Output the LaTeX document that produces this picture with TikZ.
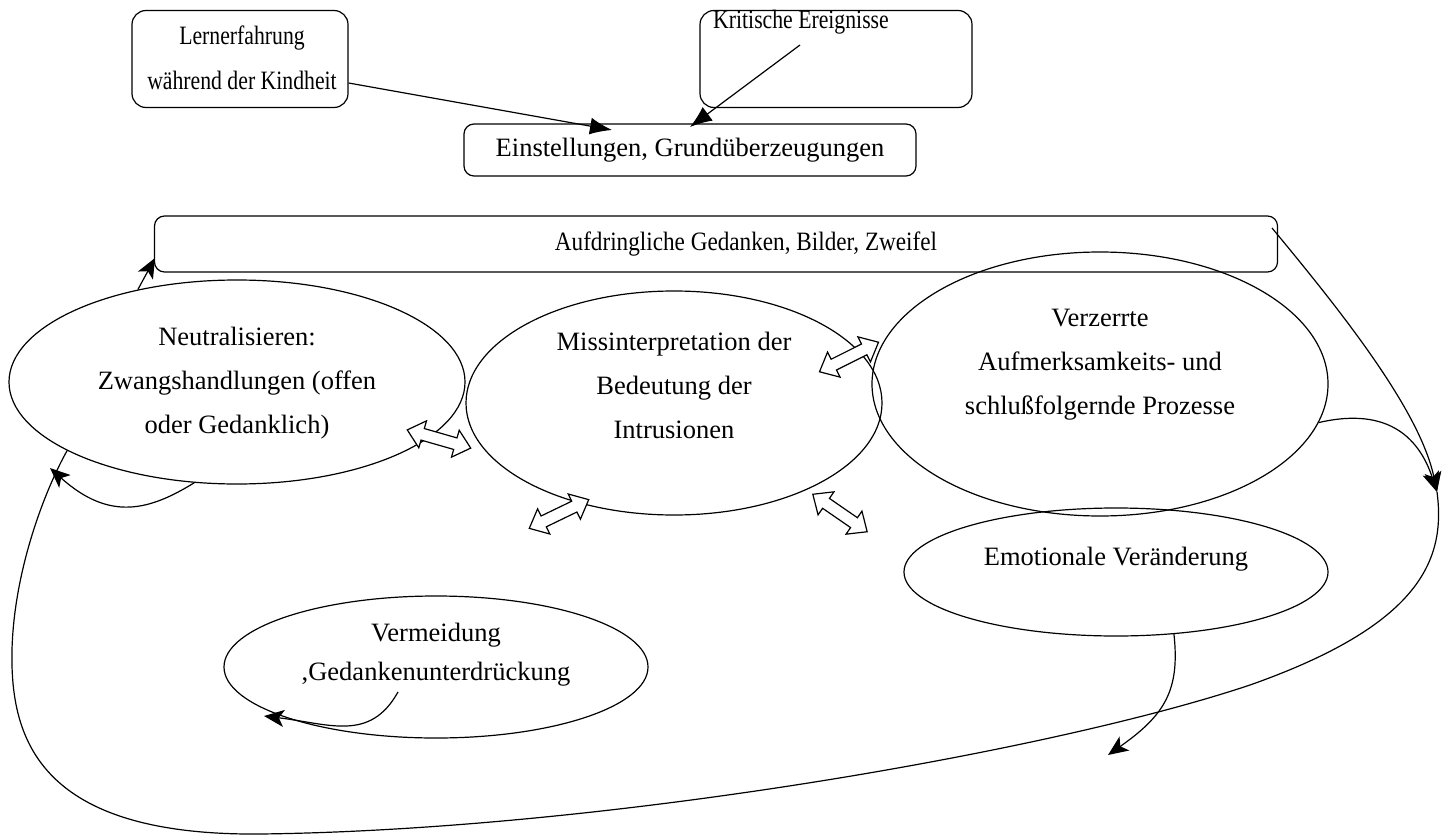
\documentclass[tikz,border=0pt]{standalone}
\usepackage{fontspec}
\setmainfont{Liberation Serif}
\newfontfamily\condfont[FakeStretch=0.82]{Liberation Serif}
\newfontfamily\semicondfont[FakeStretch=0.875]{Liberation Serif}
\usetikzlibrary{shapes.geometric,arrows.meta}
\begin{document}
\begin{tikzpicture}[x=1pt,y=-1pt,
  every node/.style={font=\fontsize{26.5}{44}\selectfont},
  boxnode/.style={draw,line width=1.2pt,rounded corners=14pt,inner sep=0pt},
  ellnode/.style={draw,ellipse,line width=1.2pt,inner sep=0pt},
  txt/.style={align=center,inner sep=0pt},
  condtxt/.style={txt,font=\condfont\fontsize{26.5}{45}\selectfont},
  conn/.style={line width=1.2pt},
  tri/.style={-{Latex[length=22pt,width=17pt]}},
  stl/.style={-{Stealth[length=20pt,width=17pt,inset=5pt]}},
  dblarr/.pic={\draw[line width=1.2pt,fill=white]
    (-33,0) -- (-17,-14) -- (-17,-6) -- (17,-6) -- (17,-14) -- (33,0)
    -- (17,14) -- (17,6) -- (-17,6) -- (-17,14) -- cycle;}
]
\useasboundingbox (0,0) rectangle (1447,837);

% ellipses
\node[ellnode,minimum width=456pt,minimum height=204pt] (neut) at (237,382) {};
\node[ellnode,minimum width=416pt,minimum height=224pt] (miss) at (674,403) {};
\node[ellnode,minimum width=456pt,minimum height=264pt] (verz) at (1100,384) {};
\node[ellnode,minimum width=424pt,minimum height=128pt] (emot) at (1116,572) {};
\node[ellnode,minimum width=424pt,minimum height=142pt] (verm) at (436,667) {};

\node[txt] (neutT) at (237,383) {Neutralisieren:\\Zwangshandlungen (offen\\oder Gedanklich)};
\node[txt] (missT) at (674,385) {Missinterpretation der\\Bedeutung der\\Intrusionen};
\node[txt] (verzT) at (1100,365) {Verzerrte\\Aufmerksamkeits- und\\schlußfolgernde Prozesse};
\node[txt] (emotT) at (1116,559) {Emotionale Ver\"anderung};
\node[txt,font=\fontsize{26.5}{39}\selectfont] (vermT) at (436,655) {Vermeidung\\,Gedankenunterdr\"uckung};

% boxes
\node[boxnode,minimum width=216pt,minimum height=97pt] (lern) at (240,59) {};
\node[condtxt] (lernT) at (242,58) {Lernerfahrung\\w\"ahrend der Kindheit};
\node[boxnode,minimum width=272pt,minimum height=97pt] (krit) at (836,59) {};
\node[condtxt] (kritT) at (801,22) {Kritische Ereignisse};
\node[boxnode,rounded corners=10pt,minimum width=452pt,minimum height=52pt] (einst) at (690,150) {};
\node[txt] (einstT) at (690,150) {Einstellungen, Grund\"uberzeugungen};
\node[boxnode,rounded corners=10pt,minimum width=1123pt,minimum height=56pt] (aufd) at (716,244) {};
\node[txt,font=\semicondfont\fontsize{26.5}{40}\selectfont] (aufdT) at (746,244) {Aufdringliche Gedanken, Bilder, Zweifel};

% connectors top
\coordinate (t1) at (612,130);
\coordinate (t2) at (690,127);
\draw[conn,tri] (lern.east |- 0,83) -- (t1);
\draw[conn,tri] (800,45) -- (t2);

% neut -> aufd
\coordinate (at) at (155,258);
\draw[conn,stl] (neut.137) -- (at);

% right side
\coordinate (rt) at (1437,492);
\draw[conn,stl] (1272,228) .. controls (1340,310) and (1420,410) .. (rt);
\draw[conn,stl] (verz.-10) .. controls (1390,406) and (1420,440) .. (rt);
% big loop
\draw[conn] (rt) .. controls (1446,560) and (1420,625) .. (1250,685)
  .. controls (1050,752) and (600,830) .. (260,834)
  .. controls (40,836) and (10,740) .. (12,650)
  .. controls (14,570) and (45,490) .. (neut.202);

% small loops
\coordinate (nt) at (50,468);
\draw[conn,stl] (neut.247) .. controls (150,510) and (110,522) .. (nt);
\coordinate (vt) at (264,716);
\draw[conn,stl] (398,692) .. controls (370,742) and (330,724) .. (vt);
\coordinate (et) at (1108,755);
\draw[conn,stl] (emot.-47) .. controls (1180,690) and (1165,715) .. (et);

% double arrows
\pic[rotate=-16] (d1) at (439,439) {dblarr};
\pic[rotate=26.6] (d2) at (849,357) {dblarr};
\pic[rotate=25.8] (d3) at (559,514) {dblarr};
\pic[rotate=-34.6] (d4) at (840,513) {dblarr};
\end{tikzpicture}
\end{document}
